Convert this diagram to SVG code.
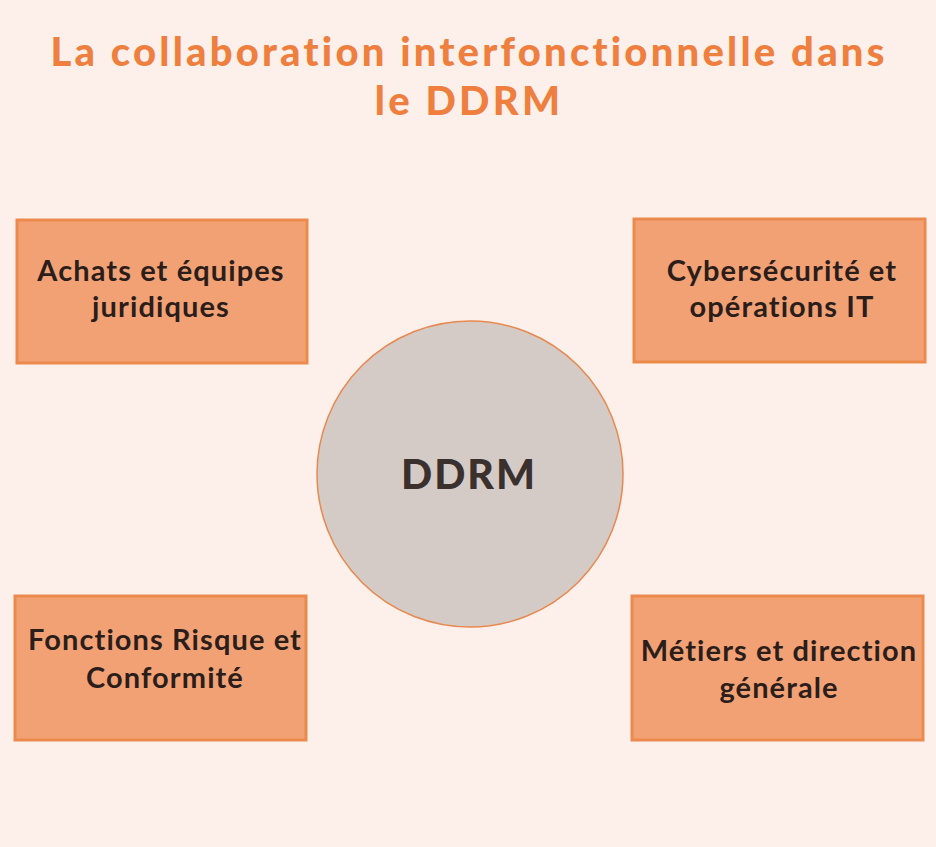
<svg xmlns="http://www.w3.org/2000/svg" width="936" height="847" viewBox="0 0 936 847">
<style>
.title{font-family:"Lato","Liberation Sans",sans-serif;font-weight:900;font-size:40px;letter-spacing:3.2px;fill:#ef7f3f;text-anchor:middle}
.box{fill:#f2a175;stroke:#ec8a4e;stroke-width:3}
.lbl{font-family:"Lato","Liberation Sans",sans-serif;font-weight:700;font-size:29px;letter-spacing:1.1px;fill:#2b1e1a;text-anchor:middle}
.hub{fill:#d5cbc6;stroke:#e8884e;stroke-width:1.5}
.hubt{font-family:"Lato","Liberation Sans",sans-serif;font-weight:900;font-size:41px;letter-spacing:2px;fill:#3a302e;text-anchor:middle}
</style>
<rect width="936" height="847" fill="#fdf0eb"/>
<g id="title">
<text class="title" x="469" y="66">La collaboration interfonctionnelle dans</text>
<text class="title" x="469" y="115">le DDRM</text>
</g>
<g id="connectors"></g>
<g id="node-achats">
<rect class="box" x="17" y="220" width="290" height="143"/>
<text class="lbl" x="161" y="281">Achats et équipes</text>
<text class="lbl" x="161" y="317">juridiques</text>
</g>
<g id="node-cyber">
<rect class="box" x="634" y="219" width="291" height="143"/>
<text class="lbl" x="782" y="281">Cybersécurité et</text>
<text class="lbl" x="782" y="317">opérations IT</text>
</g>
<g id="node-risque">
<rect class="box" x="15" y="596" width="291" height="144"/>
<text class="lbl" x="165" y="650">Fonctions Risque et</text>
<text class="lbl" x="165" y="688">Conformité</text>
</g>
<g id="node-metiers">
<rect class="box" x="632" y="596" width="291" height="144"/>
<text class="lbl" x="779" y="661">Métiers et direction</text>
<text class="lbl" x="779" y="698">générale</text>
</g>
<g id="node-ddrm">
<circle class="hub" cx="470" cy="474" r="153"/>
<text class="hubt" x="469" y="489">DDRM</text>
</g>
</svg>
